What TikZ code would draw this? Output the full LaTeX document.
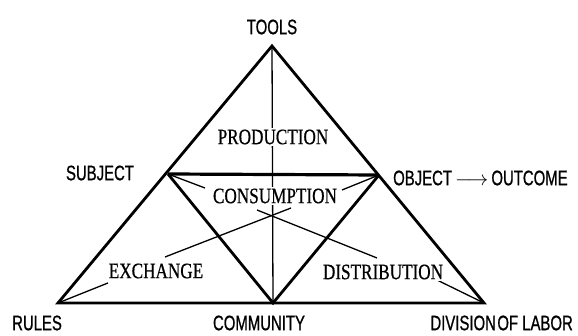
\documentclass[tikz,border=0pt]{standalone}
\usepackage{fontspec}
\newfontfamily\lblfont[FakeStretch=0.71,FakeBold=0.8]{Liberation Sans}
\newfontfamily\regfont[FakeStretch=0.78,FakeBold=0.6]{Liberation Serif}
\begin{document}
\begin{tikzpicture}[x=1pt,y=-1pt,
  lbl/.style={font=\lblfont\fontsize{21}{21}\selectfont, inner sep=0pt},
  reg/.style={font=\regfont\fontsize{22}{22}\selectfont, inner sep=1.5pt, fill=white},
  edgeouter/.style={line width=2.8pt},
  edgemid/.style={line width=3.2pt},
  edgethin/.style={line width=1.3pt}]
\useasboundingbox[fill=white] (0,0) rectangle (578,336);
% vertices
\coordinate (A) at (272,46);
\coordinate (R) at (58,303);
\coordinate (C) at (273,303);
\coordinate (D) at (484,303);
\coordinate (S) at (168,174);
\coordinate (O) at (379,175);
% connector free ends
\coordinate (consL) at (205,188);
\coordinate (consR) at (342,190);
\coordinate (exE) at (165,257);
\coordinate (exT) at (291,208);
\coordinate (diT) at (257,210);
\coordinate (diE) at (377,258);
\coordinate (exL) at (108,283);
\coordinate (diR) at (437,280);
% lines
\draw[edgethin] (A) -- (C);
\draw[edgethin] (S) -- (consL);
\draw[edgethin] (O) -- (consR);
\draw[edgethin] (exE) -- (exT);
\draw[edgethin] (diT) -- (diE);
\draw[edgethin] (R) -- (exL);
\draw[edgethin] (diR) -- (D);
\draw[edgeouter] (S) -- (C) -- (O);
\draw[edgemid] (S) -- (O);
\draw[edgeouter] (R) -- (A) -- (D) -- cycle;
% region labels
\node[reg] (prod) at (273,137) {PRODUCTION};
\node[reg] (cons) at (275,196) {CONSUMPTION};
\node[reg] (exch) at (156,271) {EXCHANGE};
\node[reg] (dist) at (383,272) {DISTRIBUTION};
% vertex labels
\node[lbl] (tools) at (272,27) {TOOLS};
\node[lbl] (subj) at (100,173) {SUBJECT};
\node[lbl, anchor=west] (obj) at (393,178) {OBJECT\hspace{3pt}$\longrightarrow$\hspace{3pt}OUTCOME};
\node[lbl, anchor=west] (rules) at (12,323) {RULES};
\node[lbl] (comm) at (259,323) {COMMUNITY};
\node[lbl, anchor=east] (div) at (573,323) {DIVISION\hspace{1.5pt}OF LABOR};
\end{tikzpicture}
\end{document}
